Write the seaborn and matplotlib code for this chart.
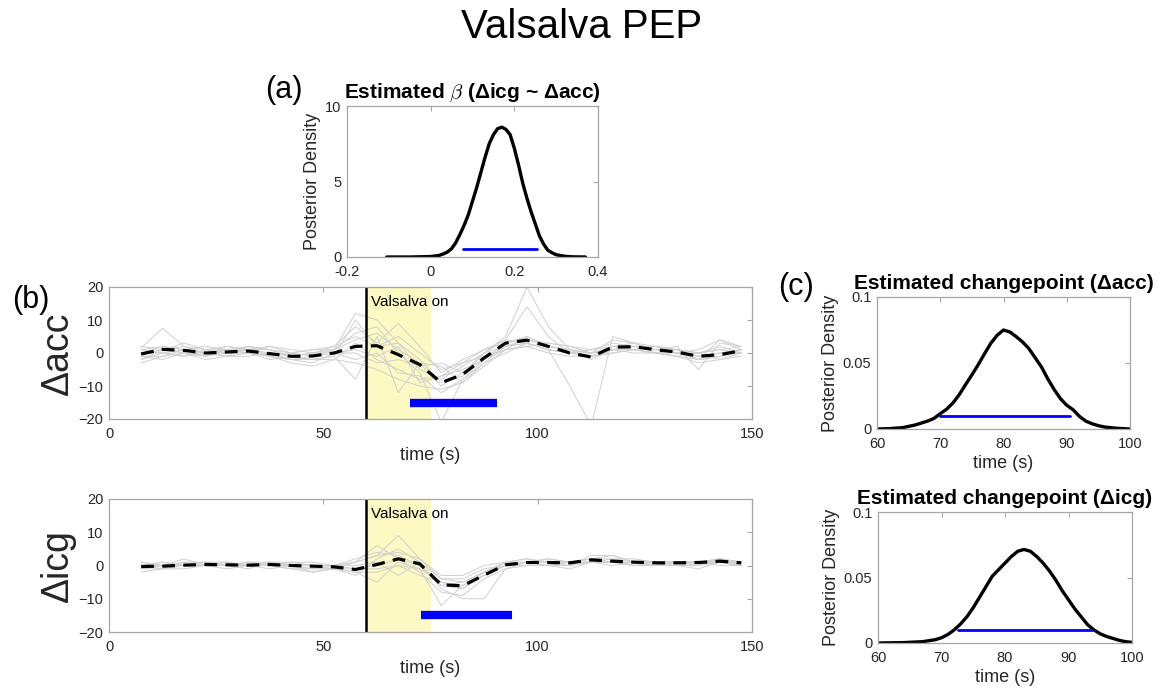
import matplotlib
matplotlib.use("Agg")
import numpy as np
import pandas as pd
import matplotlib.pyplot as plt
import seaborn as sns

# ---- data ----
TIMES = [7.5, 12.5, 17.5, 22.5, 27.5, 32.5, 37.5, 42.5, 47.5, 52.5, 57.5, 62.5, 67.5, 72.5,
         77.5, 82.5, 87.5, 92.5, 97.5, 102.5, 107.5, 112.5, 117.5, 122.5, 127.5, 132.5,
         137.5, 142.5, 147.5]

ACC_MEAN = [-0.3, 1.1, 0.8, 0.0, 0.3, 0.6, -0.2, -1.0, -0.9, 0.0, 2.0, 2.2, -0.5, -3.5,
            -9.0, -6.5, -1.5, 3.0, 3.9, 2.0, 0.0, -1.2, 1.8, 1.9, 1.0, 0.3, -1.0, -0.5, 0.7]

ACC_TRACES = [
    [1.5, 7.5, 2, 0, 1, 2, 1, -1, 0, 1, 12, 10, 3, -5, -8, -4, 0, 5, 20, 8, 1, -2, 1, 2, 1, 0, -1, 0, 1],
    [-2, 0, 1, -1, 0, 1, -1, -2, -2, -1, -8, 5, -12, -3, -10, -6, 0, 4, 14, 5, 0, -1, 2, 1, 2, 0, -2, 4, 1],
    [0, 1, 2, 1, 0, 0, -1, 0, -1, 1, 6, 8, 0, -6, -21, -8, -2, 2, 3, 1, -10, -22, 5, 3, 0, 1, 0, 1, 0],
    [-3, -1, 0, -2, -1, 2, -1, -3, -4, -2, 3, -2, -5, -8, -7, -5, -2, 3, 4, 2, 1, 0, 4, 3, 2, 1, -2, -1, 1],
    [1, 2, 1, 2, 1, 1, 2, 1, 0, 2, 5, 2, 5, 0, -5, -3, -1, 1, 2, 3, 2, 1, 3, 2, 1, 2, -5, 3, 2],
    [-1, -2, 0, -1, 1, 0, -2, -1, -2, -2, -3, -5, -8, -10, -11, -9, -3, 2, 3, 1, 0, 0, 1, 0, 0, -1, 0, -2, 0],
    [2, 1, 3, 1, 2, 1, 1, 0, 1, 2, 8, 3, 9, 2, -6, -2, 1, 3, 5, 2, 1, 0, 2, 3, 1, 0, 1, 4, 2],
    [0, 0, -1, 0, -1, -1, 0, -2, -1, 0, 0, -3, -2, -4, -3, -6, -2, 1, 2, 0, -1, -1, 0, 1, 0, -1, -3, -2, -1],
    [-2, 1, 0, -1, 2, 1, 0, -1, -2, -1, 10, 2, 3, -2, -9, -7, 0, 2, 4, 3, 2, 0, 1, 2, 2, 1, 0, 2, 0],
    [0, 2, 1, 0, 0, 2, 1, -1, 0, 0, -2, 0, -6, -7, -12, -8, -3, 0, 3, 1, 0, 1, 2, 1, 0, 0, -1, 0, 1],
    [1, 0, -1, 1, 1, 0, 2, 0, 1, 1, 4, 6, 1, -3, -4, -9, -4, 1, 5, 2, 1, 0, 1, 1, 2, 1, 0, 1, 2],
    [-1, -1, 1, 0, -1, 0, -1, -2, -3, 0, 1, -1, 2, -9, -7, -3, 1, 4, 3, 1, 0, -1, 0, 1, 0, -1, -2, -1, 0],
]

ICG_MEAN = [-0.3, -0.2, 0.1, 0.3, 0.2, 0.1, 0.3, 0.0, -0.2, -0.4, -1.2, 0.3, 2.0, 0.5,
            -5.8, -6.1, -2.9, 0.2, 0.9, 0.9, 0.8, 1.7, 1.3, 1.0, 0.8, 0.8, 0.9, 1.3, 0.8]

ICG_TRACES = [
    [0, 1, 0, 1, 0, 1, 0, 1, 0, -1, 1, 3, 9, 2, -4, -5, -2, 1, 1, 1, 1, 2, 3, 1, 1, 1, 1, 2, 1],
    [-1, -1, 0, 0, -1, 0, 0, -1, -2, -1, -2, -5, 1, -1, -12, -6, -3, 0, 1, 0, 0, 1, 1, 0, 1, 0, 0, 1, 0],
    [-2, -1, -1, 0, 0, -1, 1, 0, -1, -1, -3, 2, 5, 1, -7, -10, -10, -1, 1, 2, 1, 2, 1, 1, 1, 1, 1, 2, 1],
    [1, 0, 1, 1, 1, 0, 1, 1, 0, 0, 2, 4, 3, 0, -6, -7, -2, 1, 2, 1, 0, 3, 3, 1, 1, 1, 1, 1, 1],
    [0, -1, 1, 0, 0, 1, 0, 0, 0, 0, 0, 1, -3, 1, -4, -4, -1, 0, 1, 1, 1, 1, 1, 0, 0, 1, 0, 2, 0],
    [-1, 0, 0, 0, 1, 0, 0, -1, -1, -1, -1, 0, 2, -2, -8, -9, -4, -1, 0, 0, 0, 1, 0, 1, 0, 0, 1, 0, 0],
    [0, 0, 2, 0, 0, 1, 1, 0, 0, 0, 1, 3, 4, 2, -3, -3, 0, 1, 2, 1, 1, 1, 2, 2, 1, 1, 1, 2, 1],
    [-1, 0, 0, 1, 0, 0, -1, 0, -2, -1, -2, -2, 0, -3, -5, -6, -3, 0, 0, 0, -1, 1, 1, 0, 0, 0, -1, 1, 0],
    [1, 0, 0, 0, 1, 0, 0, 1, 1, 0, 1, 6, 2, 0, -6, -5, -2, 0, 1, 2, 1, 2, 2, 1, 1, 1, 1, 1, 1],
    [0, 1, 0, 1, 0, 0, 1, 0, -1, 0, -1, -1, 0, -1, -5, -7, -3, 0, 1, 0, 1, 1, 1, 1, 0, 1, 1, 1, 0],
]

# blue bars (changepoint credible intervals) on the time-series panels
ACC_CI = [70.2, 90.5]
ICG_CI = [72.7, 94.0]
VALSALVA_ON = 60
VALSALVA_OFF = 75

# posterior of beta
BETA_X = [-0.105, -0.05, 0.0, 0.02, 0.03, 0.04, 0.05, 0.06, 0.07, 0.08, 0.09, 0.10, 0.11,
          0.12, 0.13, 0.14, 0.15, 0.16, 0.17, 0.18, 0.19, 0.20, 0.21, 0.22, 0.23, 0.24,
          0.25, 0.26, 0.27, 0.28, 0.29, 0.30, 0.32, 0.34, 0.37]
BETA_DENS = [0.0, 0.0, 0.03, 0.1, 0.2, 0.33, 0.55, 0.95, 1.5, 2.1, 2.8, 3.7, 4.6,
             5.6, 6.6, 7.5, 8.1, 8.5, 8.6, 8.45, 8.1, 7.2, 6.1, 4.9, 3.9, 3.0,
             2.2, 1.4, 0.85, 0.45, 0.28, 0.15, 0.05, 0.01, 0.0]
BETA_CI = [0.078, 0.253]
BETA_CI_Y = 0.5

# posterior of changepoint (acc)
CP_ACC_X = [60, 62, 64, 65, 66, 67, 68, 69, 70, 71, 72, 73, 74, 75, 76, 77, 78, 79, 80, 81,
            82, 83, 84, 85, 86, 87, 88, 89, 90, 91, 92, 93, 94, 95, 96, 98, 100]
CP_ACC_DENS = [0.0, 0.0003, 0.001, 0.002, 0.003, 0.0045, 0.006, 0.008, 0.0116, 0.015,
               0.0197, 0.026, 0.0336, 0.041, 0.0487, 0.057, 0.065, 0.071, 0.075, 0.0735,
               0.070, 0.066, 0.061, 0.054, 0.047, 0.038, 0.030, 0.023, 0.018, 0.0146,
               0.0096, 0.006, 0.004, 0.0025, 0.0015, 0.0005, 0.0]
CP_ACC_CI = [70.0, 90.5]

# posterior of changepoint (icg)
CP_ICG_X = [60, 64, 67, 69, 70, 71, 72, 73, 74, 75, 76, 77, 78, 79, 80, 81, 82, 83, 84, 85,
            86, 87, 88, 89, 90, 91, 92, 93, 94, 95, 96, 97, 98, 99, 100]
CP_ICG_DENS = [0.0, 0.0003, 0.001, 0.0025, 0.004, 0.0065, 0.010, 0.0145, 0.020, 0.027,
               0.035, 0.043, 0.051, 0.056, 0.061, 0.066, 0.070, 0.0714, 0.070, 0.066,
               0.061, 0.055, 0.048, 0.040, 0.033, 0.026, 0.020, 0.014, 0.010, 0.007,
               0.005, 0.0035, 0.002, 0.001, 0.0005]
CP_ICG_CI = [72.6, 93.7]
CP_CI_Y = 0.01

GREY = "#d0d0d0"
BLUE = "#0000ff"
SPINE = "#a6a6a6"
TXT = "#262626"

sns.set_style("white")
plt.rcParams["font.family"] = ["Liberation Sans", "DejaVu Sans"]
plt.rcParams["mathtext.fontset"] = "cm"
plt.rcParams["text.color"] = "black"

W, H = 1164, 688


def box(l, t, r, b):
    # pixel box -> figure fraction rect
    return [l / W, 1 - b / H, (r - l) / W, (b - t) / H]


def style_axes(ax):
    for s in ax.spines.values():
        s.set_color(SPINE)
        s.set_linewidth(0.9)
    ax.tick_params(direction="in", top=True, right=True, color=SPINE, labelcolor=TXT,
                   length=3.5, width=0.8, labelsize=10.5)
    ax.tick_params(axis="x", pad=6)
    ax.tick_params(axis="y", pad=4)


def draw_series(ax, traces, mean, ci, ylabel):
    ax.axvspan(VALSALVA_ON, VALSALVA_OFF, color="#fcf9c2", zorder=0, lw=0)
    rows = [(TIMES[i], v, k) for k, tr in enumerate(traces) for i, v in enumerate(tr)]
    df = pd.DataFrame(rows, columns=["t", "v", "subj"])
    sns.lineplot(data=df, x="t", y="v", units="subj", estimator=None, color=GREY,
                 lw=0.7, ax=ax, legend=False)
    sns.lineplot(x=TIMES, y=mean, color="black", lw=2.3, ls=(0, (4, 2.6)), ax=ax)
    ax.axvline(VALSALVA_ON, color="black", lw=1.8)
    ax.plot(ci, [-15, -15], color=BLUE, lw=6, solid_capstyle="butt")
    ax.text(VALSALVA_ON + 1.2, 15.5, "Valsalva on", fontsize=11, color="black", va="center")
    ax.set_xlim(0, 150)
    ax.set_ylim(-20, 20)
    ax.set_xticks([0, 50, 100, 150])
    ax.set_yticks([-20, -10, 0, 10, 20])
    ax.set_xlabel("time (s)", fontsize=13, color=TXT, labelpad=4)
    ax.set_ylabel(ylabel, fontsize=27, color=TXT, labelpad=2)
    style_axes(ax)


def draw_density(ax, x, y, ci, ci_y, title, xlabel=None):
    sns.lineplot(x=x, y=y, color="black", lw=2.4, ax=ax)
    ax.plot(ci, [ci_y, ci_y], color=BLUE, lw=2)
    ax.set_title(title, fontsize=15, fontweight="bold", color="black", pad=6)
    ax.set_ylabel("Posterior Density", fontsize=13, color=TXT, labelpad=3)
    if xlabel:
        ax.set_xlabel(xlabel, fontsize=13, color=TXT, labelpad=3)
    style_axes(ax)


fig = plt.figure(figsize=(W / 100, H / 100), dpi=100)

# (a) posterior of beta
ax_a = fig.add_axes(box(347, 106, 598, 257))
draw_density(ax_a, BETA_X, BETA_DENS, BETA_CI, BETA_CI_Y,
             r"Estimated $\beta$ (Δicg ~ Δacc)")
ax_a.set_xlim(-0.2, 0.4)
ax_a.set_ylim(0, 10)
ax_a.set_xticks([-0.2, 0, 0.2, 0.4])
ax_a.set_xticklabels(["-0.2", "0", "0.2", "0.4"])
ax_a.set_yticks([0, 5, 10])

# (b) time series
ax_b1 = fig.add_axes(box(109, 287, 752, 419))
draw_series(ax_b1, ACC_TRACES, ACC_MEAN, ACC_CI, "Δacc")
ax_b2 = fig.add_axes(box(109, 499, 752, 632))
draw_series(ax_b2, ICG_TRACES, ICG_MEAN, ICG_CI, "Δicg")

# (c) changepoint posteriors
ax_c1 = fig.add_axes(box(877, 297, 1130, 429))
draw_density(ax_c1, CP_ACC_X, CP_ACC_DENS, CP_ACC_CI, CP_CI_Y,
             "Estimated changepoint (Δacc)", "time (s)")
ax_c2 = fig.add_axes(box(878, 512, 1132, 643))
draw_density(ax_c2, CP_ICG_X, CP_ICG_DENS, CP_ICG_CI, CP_CI_Y,
             "Estimated changepoint (Δicg)", "time (s)")
for ax in (ax_c1, ax_c2):
    ax.set_xlim(60, 100)
    ax.set_ylim(0, 0.1)
    ax.set_xticks([60, 70, 80, 90, 100])
    ax.set_yticks([0, 0.05, 0.1])
    ax.set_yticklabels(["0", "0.05", "0.1"])

fig.text(582 / W, 1 - 27 / H, "Valsalva PEP", fontsize=29, ha="center", va="center")
fig.text(284 / W, 1 - 90 / H, "(a)", fontsize=22, ha="center", va="center")
fig.text(31 / W, 1 - 300 / H, "(b)", fontsize=22, ha="center", va="center")
fig.text(796 / W, 1 - 287 / H, "(c)", fontsize=22, ha="center", va="center")

fig.savefig("out.png", dpi=100)
